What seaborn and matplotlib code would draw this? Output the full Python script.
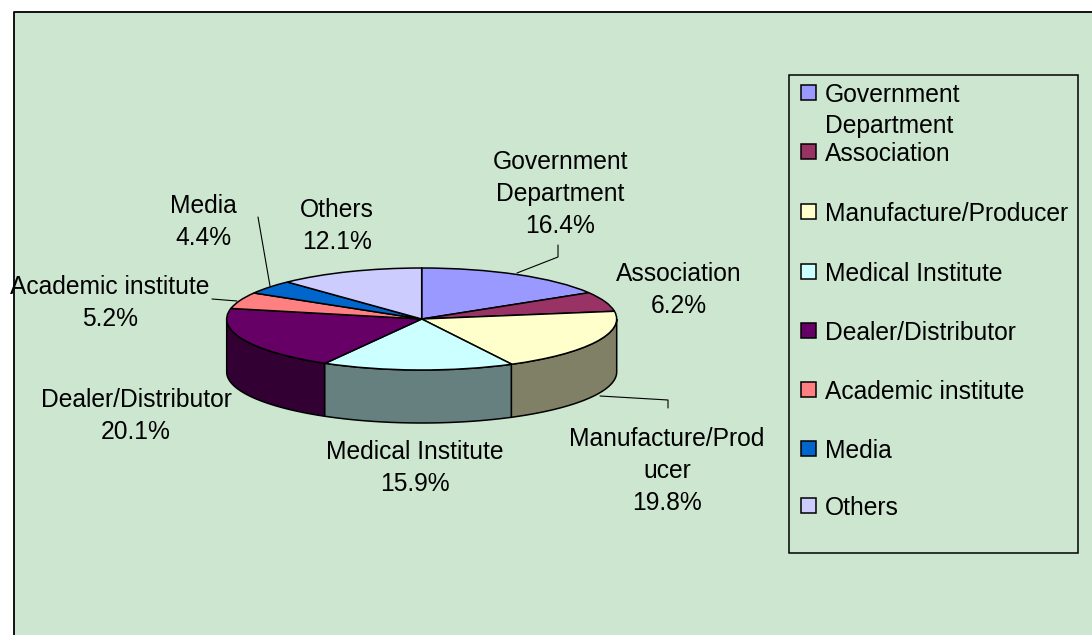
import numpy as np
import matplotlib
matplotlib.use('Agg')
import matplotlib.pyplot as plt
from matplotlib.patches import Rectangle
import seaborn as sns

# ================================================
# Data
# ================================================
categories = ['Government\nDepartment', 'Association', 'Manufacture/Producer',
              'Medical Institute', 'Dealer/Distributor', 'Academic institute',
              'Media', 'Others']
pie_labels = ['Government\nDepartment', 'Association', 'Manufacture/Prod\nucer',
              'Medical Institute', 'Dealer/Distributor', 'Academic institute',
              'Media', 'Others']
shares = [16.4, 6.2, 19.8, 15.9, 20.1, 5.2, 4.4, 12.1]
slice_colors = ['#9999FF', '#993366', '#FFFFCC', '#CCFFFF',
                '#660066', '#FF8080', '#0066CC', '#CCCCFF']

# label centres (pixels)
label_x = [560, 679, 667, 415, 136, 110, 203, 337]
label_y = [194, 290, 471, 468, 416, 303, 222, 226]
legend_y = [93, 152, 212, 272, 331, 390, 449, 506]

# ================================================
# Setup
# ================================================
sns.set_theme(style='white')
plt.rcParams['font.family'] = ['Liberation Sans', 'DejaVu Sans']
palette = sns.color_palette(slice_colors)

W, H = 1092, 635
BG = '#CCE6D0'
fig = plt.figure(figsize=(W / 100, H / 100), dpi=100, facecolor='white')

# overlay in pixel coordinates for the frame, labels and legend
ov = fig.add_axes([0, 0, 1, 1], zorder=1)
ov.set_xlim(0, W)
ov.set_ylim(H, 0)
ov.axis('off')
ov.patch.set_alpha(0)

ov.add_patch(Rectangle((14, 12), W - 14, H - 12, facecolor=BG, edgecolor='none', zorder=0))
ov.plot([14, 14, W], [H, 12, 12], color='black', lw=1.3, zorder=1)

# ================================================
# Pie, squashed into an ellipse, with a front wall
# ================================================
cx, cy, a, b, depth = 421.7, 319, 195, 51, 53
pie_ax = fig.add_axes([(cx - a) / W, (H - cy - b) / H, 2 * a / W, 2 * b / H], zorder=2)
pie_ax.patch.set_alpha(0)

edges = 90 - np.cumsum([0] + shares) * 3.6
drop = 2 * depth / (2 * b)
for i, col in enumerate(palette):
    # part of the slice on the front half of the ellipse
    hi = edges[i] % 360 if edges[i] % 360 != 0 else 360
    lo = hi - shares[i] * 3.6
    for shift in (0, 360):
        t0, t1 = max(lo + shift, 180), min(hi + shift, 360)
        if t1 > t0:
            t = np.radians(np.linspace(t0, t1, 80))
            xs = np.r_[np.cos(t), np.cos(t[::-1])]
            ys = np.r_[np.sin(t), np.sin(t[::-1]) - drop]
            pie_ax.fill(xs, ys, facecolor=tuple(c * 0.5 for c in col),
                        edgecolor='black', lw=1.1, clip_on=False, zorder=1)

wedges, _ = pie_ax.pie(shares, colors=palette, startangle=90, counterclock=False,
                       radius=1, wedgeprops={'edgecolor': 'black', 'linewidth': 1.1})
for w in wedges:
    w.set_zorder(2)
    w.set_clip_on(False)
pie_ax.set_aspect('auto')
pie_ax.set_xlim(-1, 1)
pie_ax.set_ylim(-1, 1)

# ================================================
# Labels and leader lines
# ================================================
FS = 17.7
for name, val, x, y in zip(pie_labels, shares, label_x, label_y):
    ov.text(x, y, f'{name}\n{val:.1f}%', ha='center', va='center', fontsize=FS,
            linespacing=1.4, color='black', zorder=5)

leaders = [([517, 558, 558], [273, 257, 245]),
           ([270, 258], [286, 217]),
           ([212, 237], [299, 301]),
           ([600, 668, 668], [396, 400, 408])]
for lx, ly in leaders:
    ov.plot(lx, ly, color='black', lw=0.8, zorder=3)

# ================================================
# Legend
# ================================================
ov.add_patch(Rectangle((789, 75), 289, 478, facecolor='none', edgecolor='black', lw=1.1, zorder=3))
for name, col, y in zip(categories, palette, legend_y):
    ov.add_patch(Rectangle((801, y - 8), 15, 15, facecolor=col, edgecolor='black', lw=1.1, zorder=4))
    ov.text(825, y - 10, name, ha='left', va='top', fontsize=FS, linespacing=1.38,
            color='black', zorder=5)

plt.savefig('out.png', dpi=100)
